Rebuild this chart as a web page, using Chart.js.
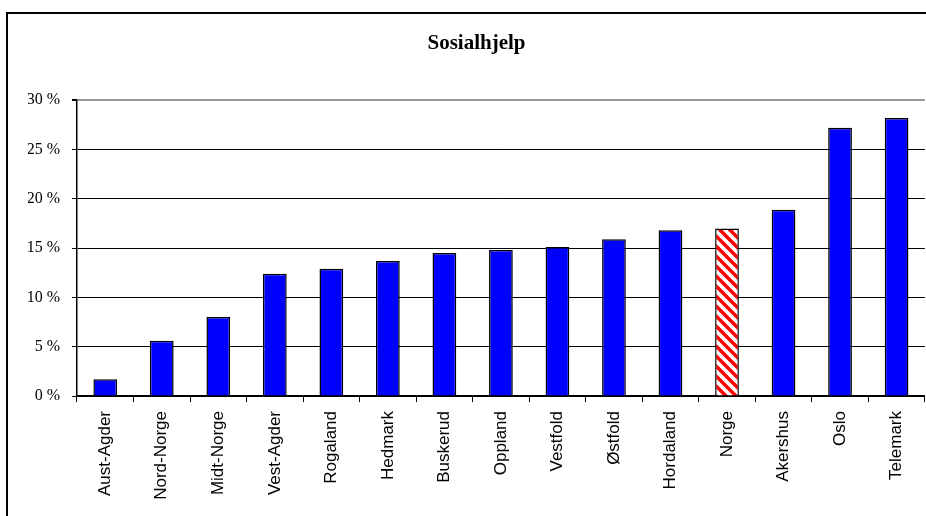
<!DOCTYPE html>
<html>
<head>
<meta charset="utf-8">
<script src="https://cdn.jsdelivr.net/npm/chart.js@4/dist/chart.umd.min.js"></script>
<style>
  html, body { margin: 0; padding: 0; background: #fff; overflow: hidden; }
  #wrap { position: relative; width: 926px; height: 516px; }
  #frame { position: absolute; left: 6px; top: 12px; width: 1000px; height: 600px; border: 2px solid #000; box-sizing: border-box; }
  #chart { position: absolute; left: 0; top: 0; }
</style>
</head>
<body>
<div id="wrap">
  <div id="frame"></div>
  <canvas id="chart" width="926" height="516"></canvas>
</div>
<script>
  const regions = [
    "Aust-Agder", "Nord-Norge", "Midt-Norge", "Vest-Agder", "Rogaland",
    "Hedmark", "Buskerud", "Oppland", "Vestfold", "Østfold",
    "Hordaland", "Norge", "Akershus", "Oslo", "Telemark"
  ];
  const shares = [1.7, 5.6, 8.0, 12.4, 12.9, 13.7, 14.5, 14.8, 15.1, 15.9, 16.8, 17.0, 18.9, 27.2, 28.2];
  const yTicks = [0, 5, 10, 15, 20, 25, 30];
  const highlight = "Norge";

  // red/white diagonal stripes for the national average
  function stripes() {
    const c = document.createElement("canvas");
    c.width = 10;
    c.height = 10;
    const g = c.getContext("2d");
    g.fillStyle = "#fff";
    g.fillRect(0, 0, 10, 10);
    g.strokeStyle = "#ff0000";
    g.lineWidth = 3.5;
    [-10, 0, 10].forEach(function (k) {
      g.beginPath();
      g.moveTo(k - 1, -1);
      g.lineTo(k + 11, 11);
      g.stroke();
    });
    return g.createPattern(c, "repeat");
  }

  const hatch = stripes();
  const fills = regions.map(function (r) { return r === highlight ? hatch : "#0000ff"; });

  new Chart(document.getElementById("chart"), {
    type: "bar",
    data: {
      labels: regions,
      datasets: [{
        data: shares,
        backgroundColor: fills,
        borderColor: "#000",
        borderWidth: 1.5,
        barPercentage: 0.42,
        categoryPercentage: 1
      }]
    },
    options: {
      responsive: false,
      animation: false,
      layout: { padding: { left: 28, right: 1, top: 0, bottom: 0 } },
      plugins: {
        legend: { display: false },
        tooltip: { enabled: false },
        title: {
          display: true,
          text: "Sosialhjelp",
          color: "#000",
          font: { family: "Liberation Serif", size: 21, weight: "bold" },
          padding: { top: 31, bottom: 44 }
        }
      },
      scales: {
        x: {
          offset: true,
          grid: { offset: true, drawOnChartArea: false, color: "#000", tickLength: 6, tickColor: "#000" },
          border: { color: "#000", width: 1.5 },
          ticks: {
            color: "#000",
            padding: 9,
            minRotation: 90,
            maxRotation: 90,
            autoSkip: false,
            font: { family: "Liberation Sans", size: 17 }
          },
          afterFit: function (s) { s.height = 120; }
        },
        y: {
          min: 0,
          max: 30,
          afterBuildTicks: function (s) { s.ticks = yTicks.map(function (v) { return { value: v }; }); },
          grid: {
            color: function (c) { return c.tick && c.tick.value === 30 ? "#999" : "#000"; },
            lineWidth: function (c) { return c.tick && c.tick.value === 30 ? 2 : 1; },
            tickLength: 5,
            tickColor: "#000"
          },
          border: { color: "#000", width: 1.5 },
          ticks: {
            color: "#000",
            padding: 12,
            font: { family: "Liberation Serif", size: 16 },
            callback: function (v) { return v + " %"; }
          },
          afterFit: function (s) { s.width = 49; }
        }
      }
    }
  });
</script>
</body>
</html>
